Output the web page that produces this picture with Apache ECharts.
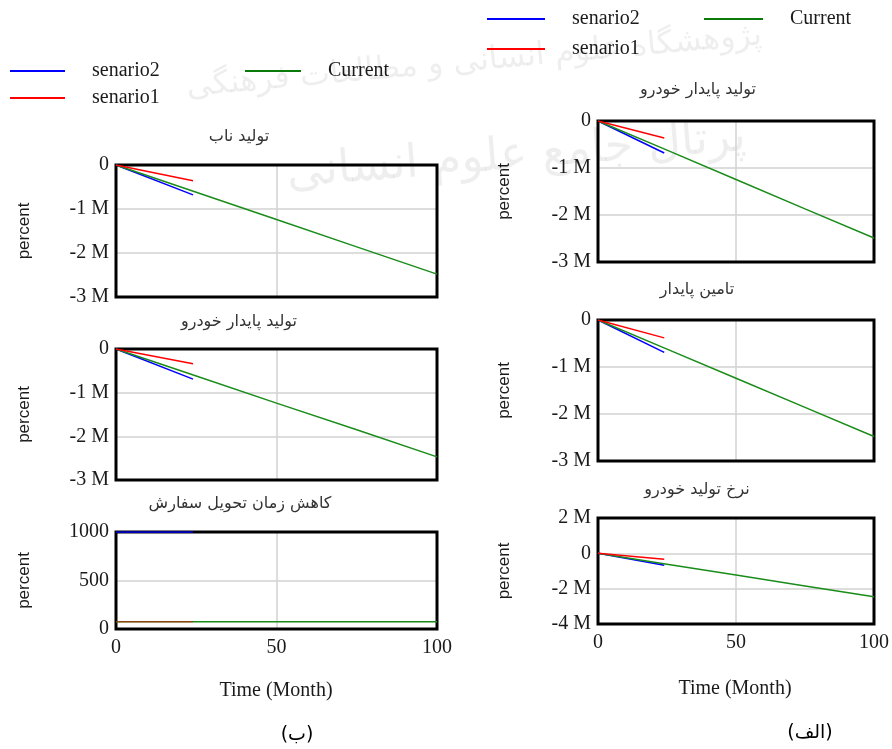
<!DOCTYPE html>
<html>
<head>
<meta charset="utf-8">
<script src="https://cdn.jsdelivr.net/npm/echarts@6/dist/echarts.min.js"></script>
<style>
  html, body { margin: 0; padding: 0; background: #fff; }
  #chart { width: 892px; height: 749px; }
</style>
</head>
<body>
<div id="chart"></div>
<script>
// Simulation time (months)
const timeCurrent = [0, 25, 50, 75, 100];
const timeScenario = [0, 24];

const seriesNames = ['senario2', 'senario1', 'Current'];
const seriesColors = { senario2: '#0000ff', senario1: '#ff0000', Current: '#1a8c1a' };

// Panel titles
const titles = [
  'تولید ناب',
  'تولید پایدار خودرو',
  'کاهش زمان تحویل سفارش',
  'تولید پایدار خودرو',
  'تامین پایدار',
  'نرخ تولید خودرو'
];

// Values per panel (percent)
const leanCurrent = [0, -0.62e6, -1.24e6, -1.86e6, -2.48e6];
const leanS1 = [0, -0.36e6];
const leanS2 = [0, -0.68e6];

const sustainLeftCurrent = [0, -0.62e6, -1.24e6, -1.85e6, -2.47e6];
const sustainLeftS1 = [0, -0.34e6];
const sustainLeftS2 = [0, -0.69e6];

const deliveryCurrent = [75, 75, 75, 75, 75];
const deliveryS1 = [75, 75];
const deliveryS2 = [1000, 1000];

const sustainRightCurrent = [0, -0.62e6, -1.245e6, -1.87e6, -2.49e6];
const sustainRightS1 = [0, -0.36e6];
const sustainRightS2 = [0, -0.68e6];

const supplyCurrent = [0, -0.62e6, -1.24e6, -1.86e6, -2.48e6];
const supplyS1 = [0, -0.38e6];
const supplyS2 = [0, -0.69e6];

const rateCurrent = [0, -0.615e6, -1.23e6, -1.845e6, -2.46e6];
const rateS1 = [0, -0.34e6];
const rateS2 = [0, -0.67e6];

// Y axis ranges per panel
const yMin = [-3e6, -3e6, 0, -3e6, -3e6, -4e6];
const yMax = [0, 0, 1000, 0, 0, 2e6];
const yStep = [1e6, 1e6, 500, 1e6, 1e6, 2e6];

const xTicks = { min: 0, max: 100, step: 50 };

const panelData = [
  { current: leanCurrent, s1: leanS1, s2: leanS2 },
  { current: sustainLeftCurrent, s1: sustainLeftS1, s2: sustainLeftS2 },
  { current: deliveryCurrent, s1: deliveryS1, s2: deliveryS2 },
  { current: sustainRightCurrent, s1: sustainRightS1, s2: sustainRightS2 },
  { current: supplyCurrent, s1: supplyS1, s2: supplyS2 },
  { current: rateCurrent, s1: rateS1, s2: rateS2 }
];

// Layout of the six plot boxes
const boxes = [
  { left: 116, top: 165, width: 321, height: 132, bottomAxis: false },
  { left: 116, top: 349, width: 321, height: 131, bottomAxis: false },
  { left: 116, top: 532, width: 321, height: 97, bottomAxis: true },
  { left: 598, top: 121, width: 276, height: 141, bottomAxis: false },
  { left: 598, top: 320, width: 276, height: 141, bottomAxis: false },
  { left: 598, top: 518, width: 276, height: 106, bottomAxis: true }
];
const titlePos = [[239, 137], [239, 322], [240, 504], [698, 90], [697, 290], [697, 490]];

const serif = 'Liberation Serif';
const arabicFont = 'DejaVu Sans';
const textColor = '#1a1a1a';

function fmtY(v) {
  if (Math.abs(v) >= 1e6) return (v / 1e6) + ' M';
  return String(v);
}
function pairs(xs, ys) { return xs.map((x, i) => [x, ys[i]]); }

const grid = [], xAxis = [], yAxis = [], series = [];
boxes.forEach((b, i) => {
  grid.push({
    left: b.left, top: b.top, width: b.width, height: b.height,
    show: false
  });
  xAxis.push({
    type: 'value', gridIndex: i, min: xTicks.min, max: xTicks.max, interval: xTicks.step,
    axisLine: { show: false }, axisTick: { show: false },
    axisLabel: { show: b.bottomAxis, color: textColor, fontFamily: serif, fontSize: 20, margin: 9 },
    splitLine: { show: true, lineStyle: { color: '#d2d2d2', width: 1.5 } }
  });
  yAxis.push({
    type: 'value', gridIndex: i, min: yMin[i], max: yMax[i], interval: yStep[i],
    axisLine: { show: false }, axisTick: { show: false },
    axisLabel: { color: textColor, fontFamily: serif, fontSize: 20, margin: 7, formatter: fmtY },
    splitLine: { show: true, lineStyle: { color: '#d2d2d2', width: 1.5 } }
  });
  const d = panelData[i];
  series.push({
    name: 'Current', type: 'line', xAxisIndex: i, yAxisIndex: i, showSymbol: false,
    data: pairs(timeCurrent, d.current),
    lineStyle: { color: seriesColors.Current, width: 1.5 }, z: 3
  });
  series.push({
    name: 'senario2', type: 'line', xAxisIndex: i, yAxisIndex: i, showSymbol: false,
    data: pairs(timeScenario, d.s2),
    lineStyle: { color: seriesColors.senario2, width: 1.5 }, z: 2
  });
  series.push({
    name: 'senario1', type: 'line', xAxisIndex: i, yAxisIndex: i, showSymbol: false,
    data: pairs(timeScenario, d.s1),
    lineStyle: { color: seriesColors.senario1, width: 1.5, opacity: i === 2 ? 0.5 : 1 }, z: 4
  });
});

const graphic = [];

// faint background stamp
graphic.push({
  type: 'text', left: 185, top: 20, z: -10, rotation: 0.09,
  style: { text: 'پژوهشگاه علوم انسانی و مطالعات فرهنگی', fill: 'rgba(0,0,0,0.065)',
    font: '32px "DejaVu Sans"' }
});
graphic.push({
  type: 'text', left: 285, top: 115, z: -10, rotation: 0.08,
  style: { text: 'پرتال جامع علوم انسانی', fill: 'rgba(0,0,0,0.065)',
    font: '46px "DejaVu Sans"' }
});

// black frame around every plot box (series are drawn above it)
boxes.forEach(b => {
  graphic.push({
    type: 'rect', z: 1,
    shape: { x: b.left, y: b.top, width: b.width, height: b.height },
    style: { fill: null, stroke: '#000', lineWidth: 3 }
  });
});

// panel titles
titles.forEach((t, i) => {
  graphic.push({
    type: 'text', x: titlePos[i][0], y: titlePos[i][1],
    style: { text: t, fill: '#333', font: '16px "' + arabicFont + '"', align: 'center', verticalAlign: 'middle' }
  });
});

// y axis names
boxes.forEach((b, i) => {
  const cx = i < 3 ? 24 : 504;
  graphic.push({
    type: 'text', x: cx, y: b.top + b.height / 2, rotation: Math.PI / 2,
    style: { text: 'percent', fill: textColor, font: '17px "Liberation Sans"', align: 'center', verticalAlign: 'middle' }
  });
});

// x axis names
[[276, 691], [735, 689]].forEach(p => {
  graphic.push({
    type: 'text', x: p[0], y: p[1],
    style: { text: 'Time (Month)', fill: textColor, font: '20px "' + serif + '"', align: 'center', verticalAlign: 'middle' }
  });
});

// column captions
graphic.push({ type: 'text', x: 297, y: 735,
  style: { text: '(ب)', fill: '#000', font: '19px "' + arabicFont + '"', align: 'center', verticalAlign: 'middle' } });
graphic.push({ type: 'text', x: 810, y: 733,
  style: { text: '(الف)', fill: '#000', font: '19px "' + arabicFont + '"', align: 'center', verticalAlign: 'middle' } });

// legends
const legendItems = [
  { name: 'senario2', x1: 10, x2: 65, y: 71, tx: 92 },
  { name: 'senario1', x1: 10, x2: 65, y: 98, tx: 92 },
  { name: 'Current', x1: 245, x2: 301, y: 71, tx: 328 },
  { name: 'senario2', x1: 487, x2: 545, y: 19, tx: 572 },
  { name: 'senario1', x1: 487, x2: 545, y: 49, tx: 572 },
  { name: 'Current', x1: 704, x2: 763, y: 19, tx: 790 }
];
legendItems.forEach(it => {
  graphic.push({ type: 'line', shape: { x1: it.x1, y1: it.y, x2: it.x2, y2: it.y },
    style: { stroke: it.name === 'Current' ? '#0a7a0a' : seriesColors[it.name], lineWidth: 2 } });
  graphic.push({ type: 'text', x: it.tx, y: it.y,
    style: { text: it.name, fill: textColor, font: '20px "' + serif + '"', align: 'left', verticalAlign: 'middle' } });
});

const chart = echarts.init(document.getElementById('chart'), null, { renderer: 'canvas' });
chart.setOption({
  animation: false,
  backgroundColor: '#fff',
  grid, xAxis, yAxis, series, graphic
});
</script>
</body>
</html>
